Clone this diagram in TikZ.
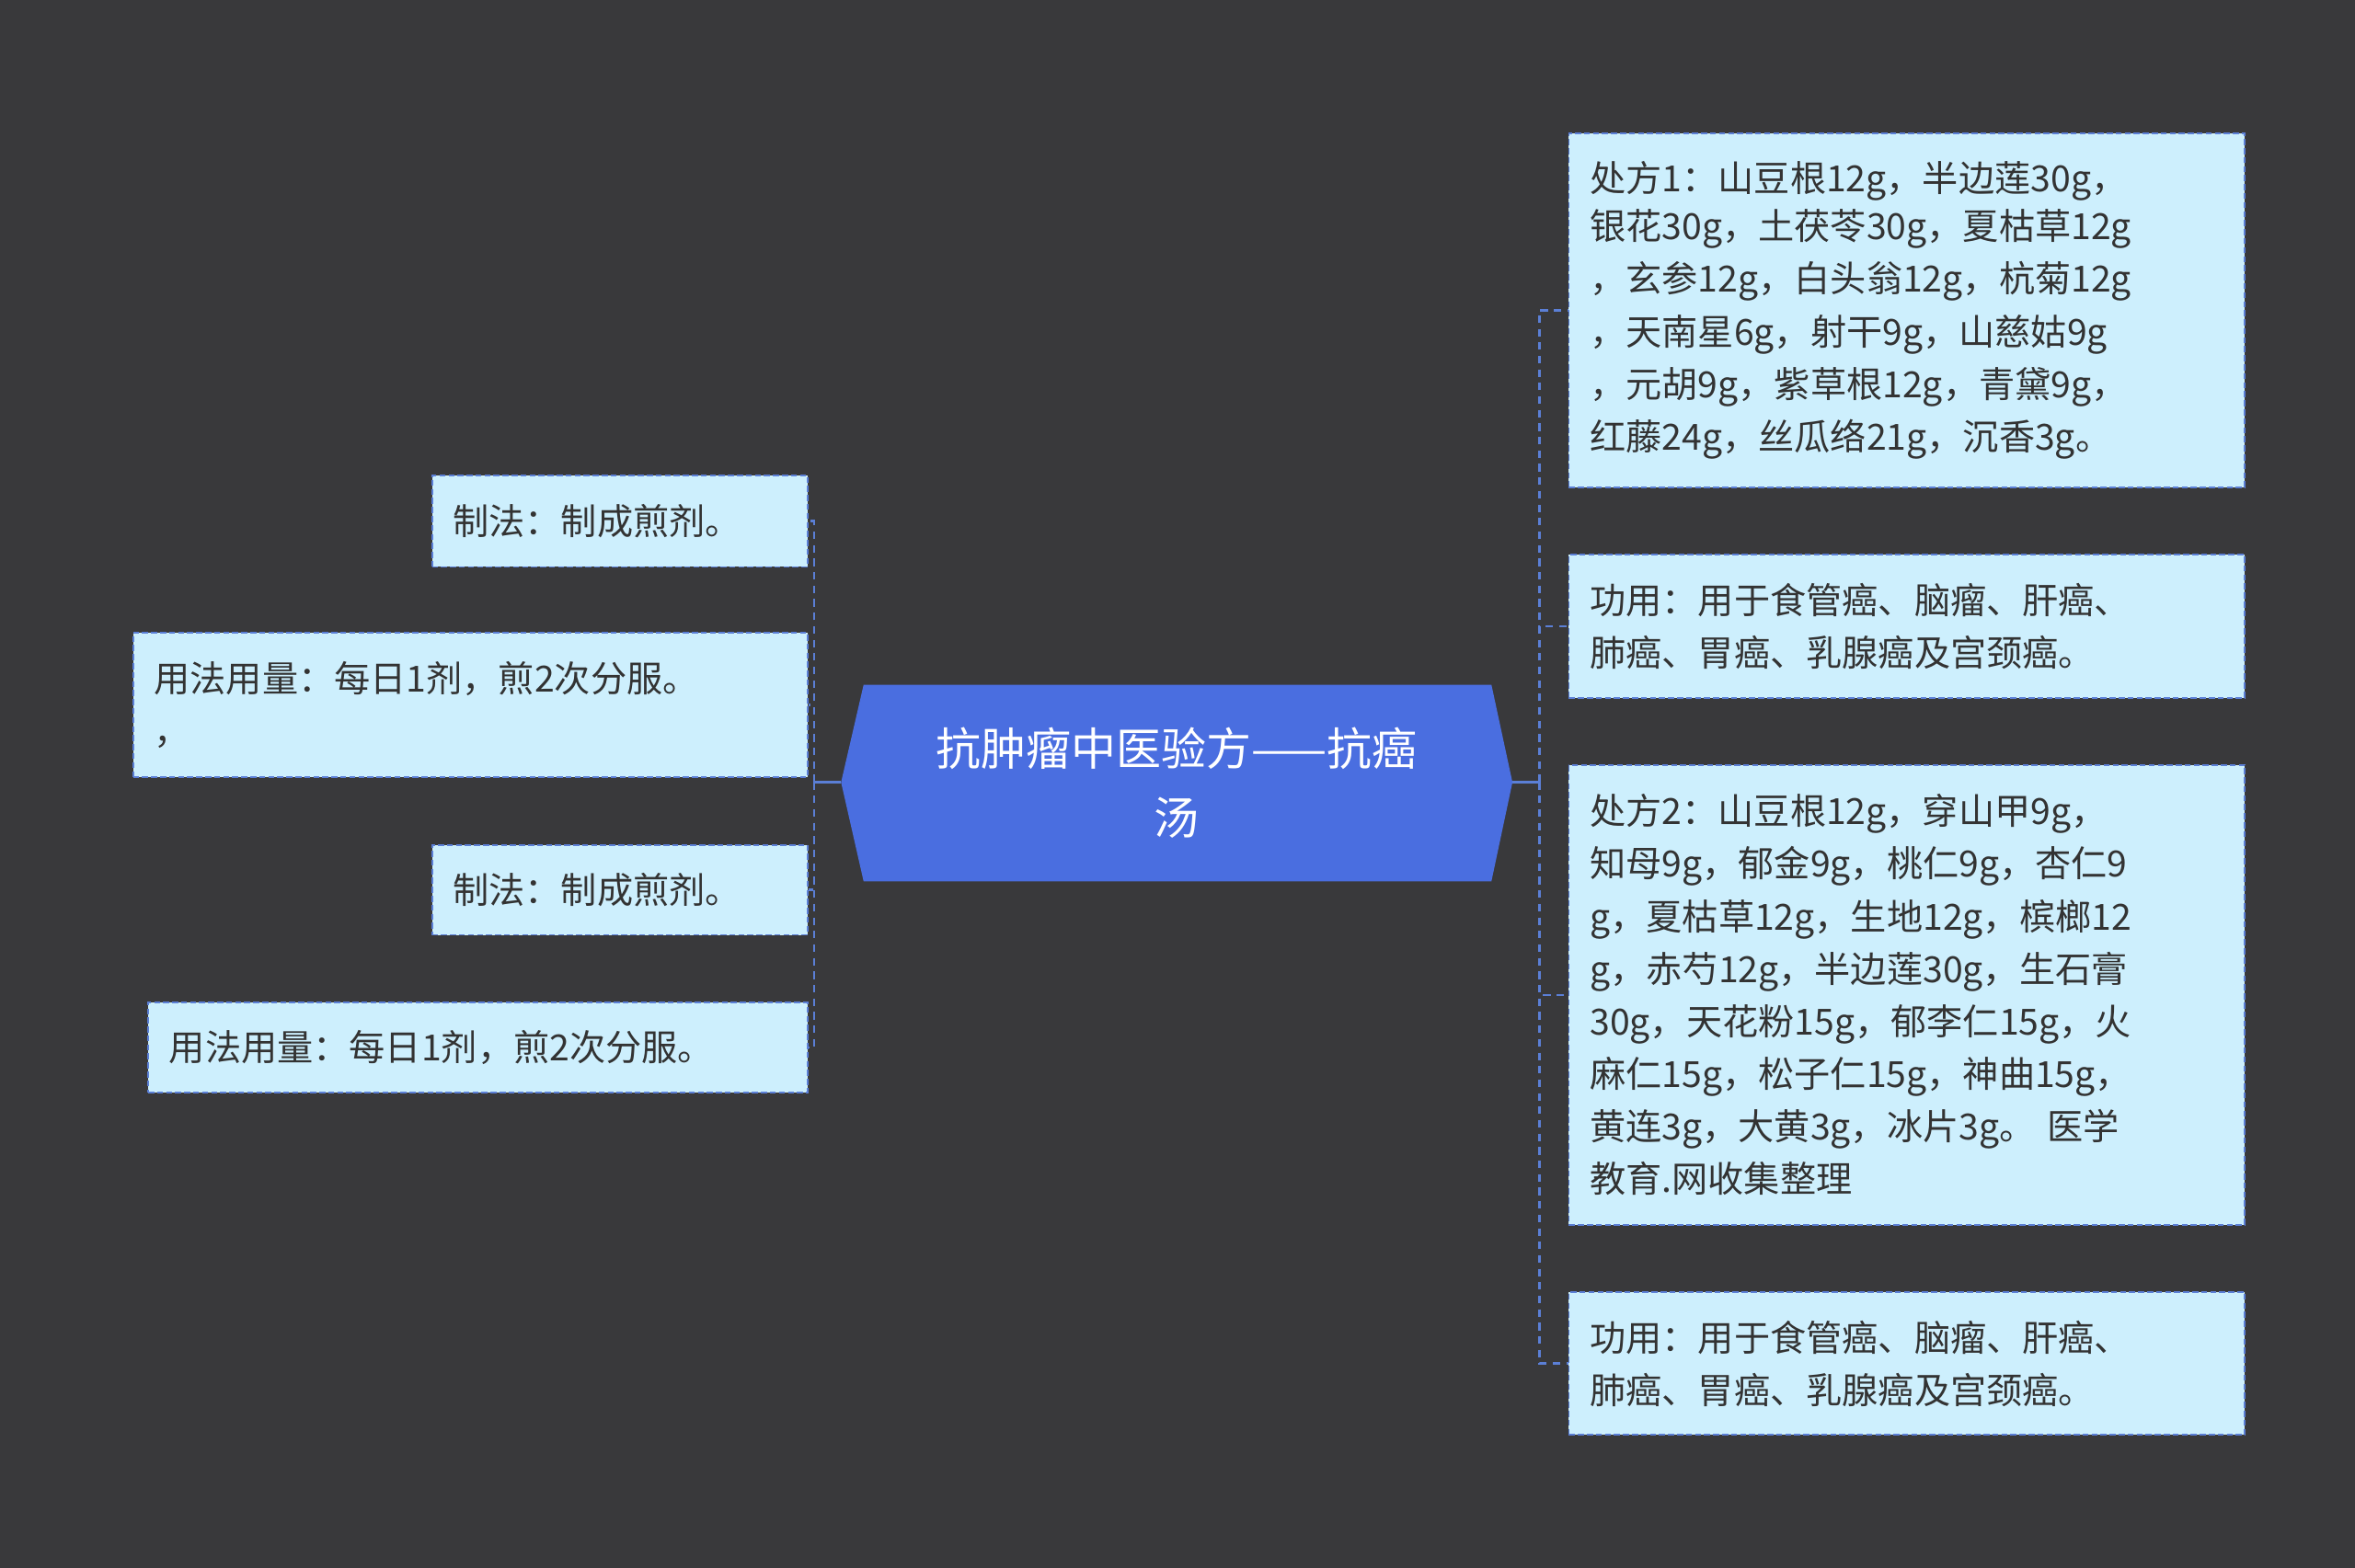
\documentclass[tikz,border=0pt]{standalone}
\usepackage{fontspec}
\newfontfamily\cjk{Noto Sans CJK SC}
\begin{document}
\begin{tikzpicture}[x=1pt,y=-1pt,
  box/.style={draw=boxline,fill=boxfill,dash pattern=on 4pt off 2pt,line width=1.2pt,
    inner sep=0pt,align=left,font=\cjk\fontsize{24}{35}\selectfont,text=textc,anchor=north west},
  link/.style={draw=linkc,line width=1.6pt,dash pattern=on 5pt off 4pt}]
\definecolor{bg}{HTML}{39393B}
\definecolor{boxfill}{HTML}{CDEFFD}
\definecolor{boxline}{HTML}{5B7FD6}
\definecolor{textc}{HTML}{333333}
\definecolor{linkc}{HTML}{5B7FD6}
\definecolor{cfill}{HTML}{4A6EE0}
\fill[bg] (0,0) rectangle (1568,1044);
\useasboundingbox (0,0) rectangle (1568,1044);
% center
\fill[cfill] (575,456) -- (993,456) -- (1007,521) -- (993,587) -- (575,587) -- (560,521) -- cycle;
\node[font=\cjk\fontsize{30}{46}\selectfont,text=white,align=center,minimum width=447pt,minimum height=131pt,inner sep=0pt] (c) at (783.5,521.5) {抗肿瘤中医验方——抗癌\\汤};
% right boxes
\newcommand\rbox[5]{\node[box,minimum width=#3pt,minimum height=#4pt,text width=#3pt] (#1) at (1044,#2) {\hspace*{14pt}\parbox[t]{\dimexpr#3pt-28pt}{#5}};}
\node[box,minimum width=436pt,minimum height=236pt,text width=422pt,inner xsep=14pt,inner ysep=0pt] (r1) at (1044,88) {\vspace*{-3pt}处方1：山豆根12g，半边莲30g，\\银花30g，土茯苓30g，夏枯草12g\\，玄参12g，白头翁12g，杭菊12g\\，天南星6g，射干9g，山慈姑9g\\，元胡9g，紫草根12g，青黛9g，\\红藤24g，丝瓜络21g，沉香3g。};
\node[box,minimum width=436pt,minimum height=95pt,text width=422pt,inner xsep=14pt] (r2) at (1044,369) {功用：用于食管癌、脑瘤、肝癌、\\肺癌、胃癌、乳腺癌及宫颈癌。};
\node[box,minimum width=436pt,minimum height=306pt,text width=422pt,inner xsep=14pt] (r3) at (1044,509) {处方2：山豆根12g，穿山甲9g，\\知母9g，郁金9g，桃仁9g，杏仁9\\g，夏枯草12g，生地12g，槟榔12\\g，赤芍12g，半边莲30g，生石膏\\30g，天花粉15g，郁李仁15g，火\\麻仁15g，松子仁15g，神曲15g，\\黄连3g，大黄3g，冰片3g。 医学\\教育.网收集整理};
\node[box,minimum width=436pt,minimum height=95pt,text width=422pt,inner xsep=14pt] (r4) at (1044,860) {功用：用于食管癌、脑瘤、肝癌、\\肺癌、胃癌、乳腺癌及宫颈癌。};
% left boxes
\node[box,minimum width=236pt,minimum height=61pt,text width=222pt,inner xsep=14pt] (l1) at (287,316) {制法：制成煎剂。};
\node[box,minimum width=435pt,minimum height=96pt,text width=421pt,inner xsep=14pt] (l2) at (88,421) {用法用量：每日1剂，煎2次分服。\\，};
\node[box,minimum width=236pt,minimum height=60pt,text width=222pt,inner xsep=14pt] (l3) at (287,562) {制法：制成煎剂。};
\node[box,minimum width=425pt,minimum height=60pt,text width=411pt,inner xsep=14pt] (l4) at (98,667) {用法用量：每日1剂，煎2次分服。};
% connectors
\coordinate (rj) at (1025,521);
\coordinate (lj) at (542,521);
\draw[linkc,line width=1.6pt] (1007,521) -- (rj);
\draw[linkc,line width=1.6pt] (560,521) -- (lj);
\foreach \n in {r1,r2,r3,r4} \draw[link] (rj) |- (\n.west);
\foreach \n in {l1,l2,l3,l4} \draw[link] (lj) |- (\n.east);
\end{tikzpicture}
\end{document}
